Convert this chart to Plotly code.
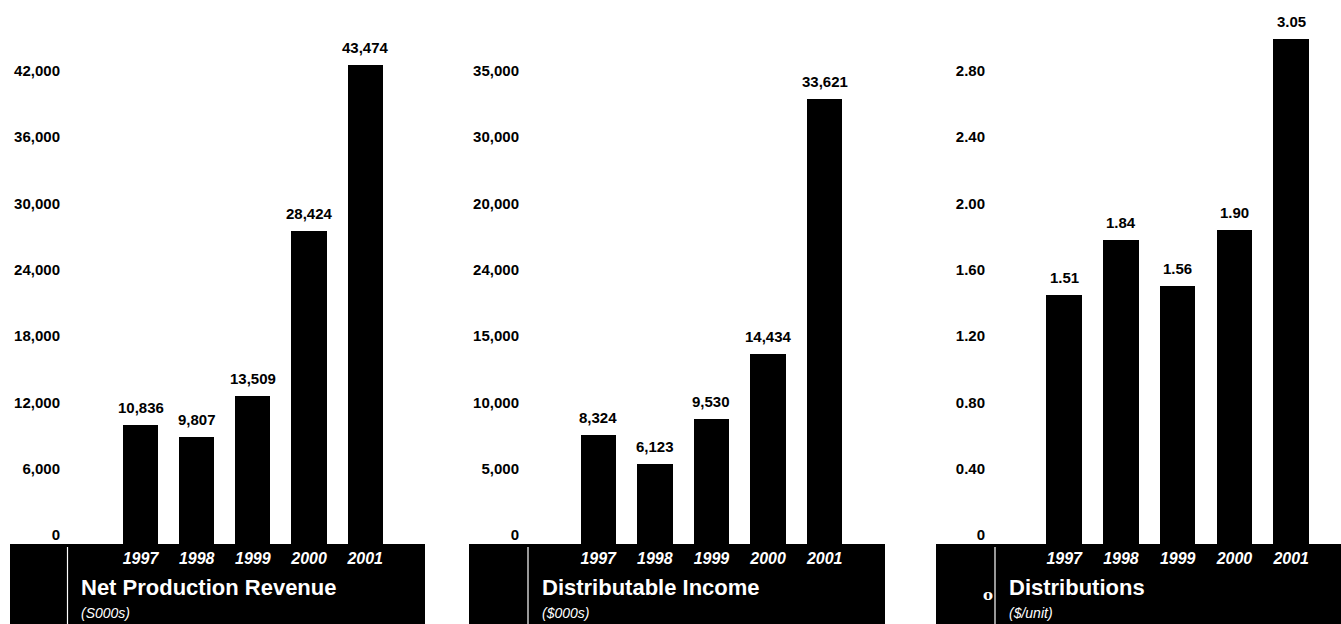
import plotly.graph_objects as go

# ---- data -------------------------------------------------------------
years = ["1997", "1998", "1999", "2000", "2001"]

net_production_revenue = [10836, 9807, 13509, 28424, 43474]   # $000s
distributable_income = [8324, 6123, 9530, 14434, 33621]       # $000s
distributions = [1.51, 1.84, 1.56, 1.90, 3.05]                # $/unit

revenue_tickvals = [0, 6000, 12000, 18000, 24000, 30000, 36000, 42000]
revenue_ticktext = ["0", "6,000", "12,000", "18,000", "24,000", "30,000", "36,000", "42,000"]
income_tickvals = [0, 5000, 10000, 15000, 20000, 25000, 30000, 35000]
income_ticktext = ["0", "5,000", "10,000", "15,000", "24,000", "20,000", "30,000", "35,000"]
dist_tickvals = [0, 0.4, 0.8, 1.2, 1.6, 2.0, 2.4, 2.8]
dist_ticktext = ["0", "0.40", "0.80", "1.20", "1.60", "2.00", "2.40", "2.80"]

titles = ["Net Production Revenue", "Distributable Income", "Distributions"]
units = ["(S000s)", "($000s)", "($/unit)"]

# ---- page geometry (pixels) ------------------------------------------
W, H = 1341, 624
BASE = 545          # baseline of the bars / top of the black caption band
STEP_PX = 66.3      # height of one tick interval

panels = [
    dict(values=net_production_revenue, labels=[f"{v:,}" for v in net_production_revenue],
         tickvals=revenue_tickvals, ticktext=revenue_ticktext, step=6000,
         band=(10, 425), sep=67.5, plot=(61, 425), first=140.5, pitch=56.18),
    dict(values=distributable_income, labels=[f"{v:,}" for v in distributable_income],
         tickvals=income_tickvals, ticktext=income_ticktext, step=5000,
         band=(469, 885), sep=528, plot=(520, 885), first=598.2, pitch=56.63),
    dict(values=distributions, labels=[f"{v:.2f}" for v in distributions],
         tickvals=dist_tickvals, ticktext=dist_ticktext, step=0.4,
         band=(936, 1341), sep=995, plot=(986, 1341), first=1064.2, pitch=56.75),
]

BAR_BLACK = "#000000"
SANS = "Liberation Sans, Arial, Helvetica, sans-serif"
NUM_FONT = dict(family=SANS, size=15, color="#000000", weight="bold")

fig = go.Figure()
layout = dict(
    template="none",
    width=W, height=H, autosize=False,
    margin=dict(l=0, r=0, t=0, b=0, pad=0),
    paper_bgcolor="white", plot_bgcolor="rgba(0,0,0,0)",
    showlegend=False,
    bargap=0,
)
shapes, annotations = [], []
y_bottom = (H - BASE) / H

for i, p in enumerate(panels, start=1):
    xa = "x" if i == 1 else f"x{i}"
    ya = "y" if i == 1 else f"y{i}"
    p0, p1 = p["plot"]
    x_range = [-(p["first"] - p0) / p["pitch"], (p1 - p["first"]) / p["pitch"]]
    y_top = p["step"] / STEP_PX * BASE

    fig.add_trace(go.Bar(
        x=years, y=p["values"], xaxis=xa, yaxis=ya,
        width=0.625, marker=dict(color=BAR_BLACK, line=dict(width=0)),
        hoverinfo="x+y",
    ))

    layout[f"xaxis{'' if i == 1 else i}"] = dict(
        domain=[p0 / W, p1 / W], range=x_range, type="category", automargin=False,
        anchor=ya, showgrid=False, zeroline=False, showline=False, ticks="",
        tickfont=dict(family=SANS, size=16, color="white", weight="bold", style="italic"),
        ticklabelstandoff=2,
    )
    layout[f"yaxis{'' if i == 1 else i}"] = dict(
        domain=[y_bottom, 1], range=[0, y_top], anchor=xa, automargin=False,
        tickvals=p["tickvals"], ticktext=p["ticktext"],
        showgrid=False, zeroline=False, showline=False, ticks="",
        tickfont=NUM_FONT, ticklabelshift=-10, ticklabelstandoff=0,
    )

    # black caption band with its thin white divider
    b0, b1 = p["band"]
    shapes.append(dict(type="rect", xref="paper", yref="paper",
                       x0=b0 / W, x1=b1 / W, y0=0, y1=(H - BASE + 1) / H,
                       fillcolor="black", line=dict(width=0), layer="below"))
    shapes.append(dict(type="line", xref="paper", yref="paper",
                       x0=p["sep"] / W, x1=p["sep"] / W, y0=0, y1=(H - BASE - 2) / H,
                       line=dict(color="white", width=1.2)))

    # value labels above the bars
    for k, (v, lab) in enumerate(zip(p["values"], p["labels"])):
        annotations.append(dict(x=k, y=v, xref=xa, yref=ya, text=lab, showarrow=False,
                                xanchor="center", yanchor="bottom", yshift=7,
                                font=dict(NUM_FONT)))

    # caption title and units
    tx = (p["sep"] + 11.5) / W
    annotations.append(dict(x=tx, y=(H - 587) / H, xref="paper", yref="paper",
                            text=titles[i - 1], showarrow=False, xanchor="left", yanchor="middle",
                            font=dict(family=SANS, size=22, color="white", weight="bold")))
    annotations.append(dict(x=tx, y=(H - 613) / H, xref="paper", yref="paper",
                            text=units[i - 1], showarrow=False, xanchor="left", yanchor="middle",
                            font=dict(family=SANS, size=14, color="white", style="italic")))

# small mark left of the third divider
annotations.append(dict(x=988 / W, y=(H - 595) / H, xref="paper", yref="paper", text="o",
                        showarrow=False, xanchor="center", yanchor="middle",
                        font=dict(family="DejaVu Serif, serif", size=15, color="white", weight="bold")))

layout["shapes"] = shapes
layout["annotations"] = annotations
fig.update_layout(**layout)

fig.write_html("out.html")
